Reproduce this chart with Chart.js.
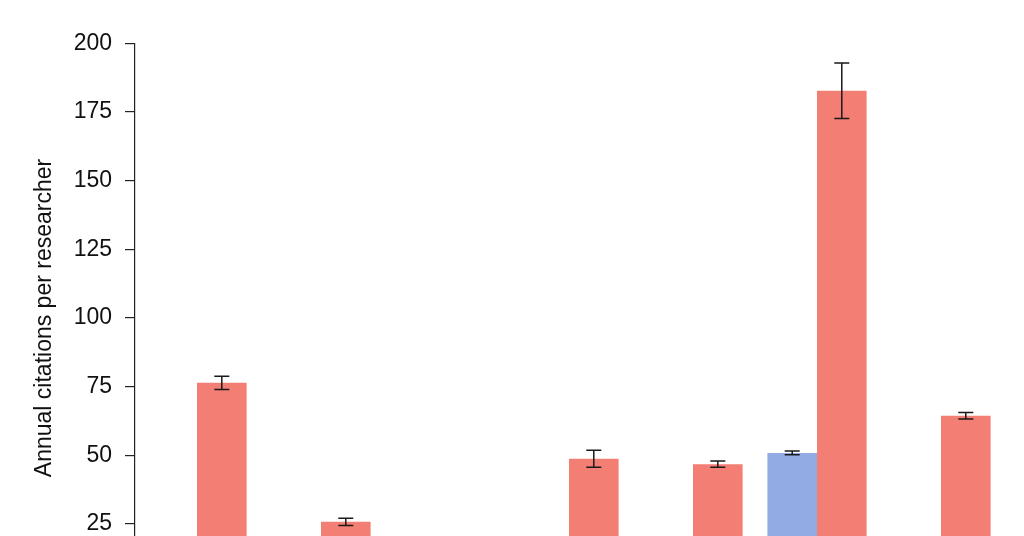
<!DOCTYPE html>
<html>
<head>
<meta charset="utf-8">
<script src="https://cdn.jsdelivr.net/npm/chart.js@4/dist/chart.umd.min.js"></script>
<style>
  html, body { margin: 0; padding: 0; background: #ffffff; overflow: hidden; }
  #wrap { width: 1024px; height: 620px; }
</style>
</head>
<body>
<div id="wrap"><canvas id="c" width="1024" height="620"></canvas></div>
<script>
// Categories (their labels fall below the visible crop of the reference)
const categories = ["1", "2", "3", "4", "5", "6", "7"];
// Series values (null = bar not visible in the cropped reference)
const blueValues = [null, null, null, null, null, 50.9, null];
const redValues  = [76.4, 25.8, null, 48.8, 46.8, 182.7, 64.4];
// Error bar half-widths
const blueErrors = [null, null, null, null, null, 0.7, null];
const redErrors  = [2.4, 1.3, null, 3.1, 1.1, 10.1, 1.2];
// Y axis
const yTicks = [0, 25, 50, 75, 100, 125, 150, 175, 200];
const yTitle = "Annual citations per researcher";

const errorBars = {
  id: 'errorBars',
  afterDatasetsDraw(chart) {
    const ctx = chart.ctx;
    const yScale = chart.scales.y;
    const errs = [blueErrors, redErrors];
    ctx.save();
    ctx.strokeStyle = '#1a1a1a';
    ctx.lineWidth = 1.5;
    chart.data.datasets.forEach((ds, di) => {
      const meta = chart.getDatasetMeta(di);
      meta.data.forEach((bar, i) => {
        const v = ds.data[i];
        const e = errs[di][i];
        if (v == null || e == null) return;
        const x = bar.x;
        const yTop = yScale.getPixelForValue(v + e);
        const yBot = yScale.getPixelForValue(v - e);
        const cap = 7.5;
        ctx.beginPath();
        ctx.moveTo(x, yTop); ctx.lineTo(x, yBot);
        ctx.moveTo(x - cap, yTop); ctx.lineTo(x + cap, yTop);
        ctx.moveTo(x - cap, yBot); ctx.lineTo(x + cap, yBot);
        ctx.stroke();
      });
    });
    ctx.restore();
  }
};

new Chart(document.getElementById('c'), {
  type: 'bar',
  data: {
    labels: categories,
    datasets: [
      { label: 'Blue', data: blueValues, backgroundColor: '#93ABE4', borderWidth: 0,
        categoryPercentage: 0.8, barPercentage: 1.0 },
      { label: 'Red', data: redValues, backgroundColor: '#F37E73', borderWidth: 0,
        categoryPercentage: 0.8, barPercentage: 1.0 }
    ]
  },
  options: {
    responsive: false,
    animation: false,
    devicePixelRatio: 1,
    layout: { padding: { left: 0, right: 21, top: 43.3, bottom: 27.3 } },
    plugins: { legend: { display: false }, tooltip: { enabled: false } },
    scales: {
      x: { display: false, offset: true },
      y: {
        min: 0, max: 200,
        afterBuildTicks(scale) { scale.ticks = yTicks.map(v => ({ value: v })); },
        afterFit(scale) { scale.width = 135; },
        ticks: {
          padding: 13,
          color: '#111111',
          font: { family: "'Liberation Sans', Arial, sans-serif", size: 23 }
        },
        grid: { drawOnChartArea: false, drawTicks: true, tickLength: 10, tickColor: '#222222', lineWidth: 1.2 },
        border: { display: true, color: '#222222', width: 1.2 },
        title: {
          display: true, text: yTitle, color: '#111111',
          font: { family: "'Liberation Sans', Arial, sans-serif", size: 23 },
          padding: { top: 30.5, bottom: 0 }
        }
      }
    }
  },
  plugins: [errorBars]
});
</script>
</body>
</html>
